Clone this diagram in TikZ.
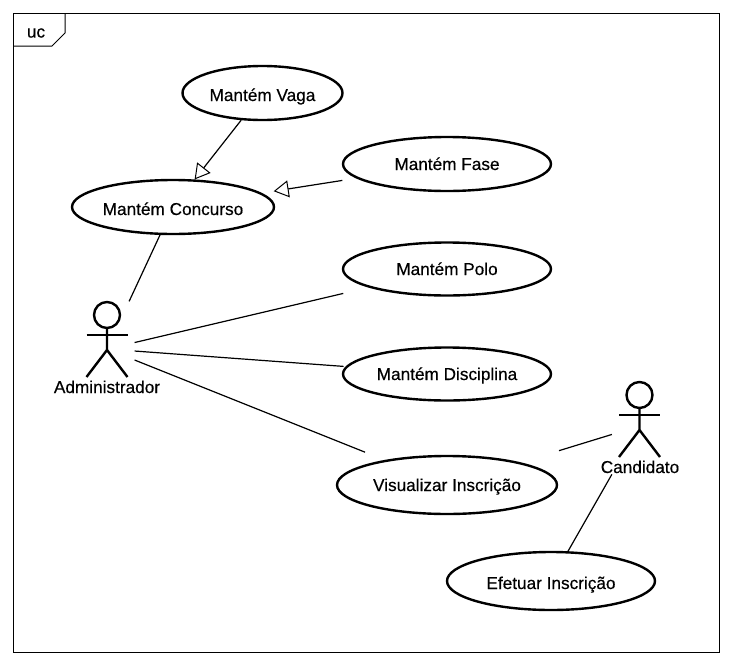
\documentclass[tikz,border=0pt]{standalone}
\usepackage{fontspec}
\setmainfont[FakeBold=0.35]{Liberation Sans}
\usetikzlibrary{arrows.meta,shapes.geometric}

\tikzset{
  case node/.style={ellipse,draw,line width=2.4pt,inner sep=0pt,text height=16pt,text depth=0pt},
  actor node/.style={rectangle,inner sep=0pt,minimum width=54pt},
  actor label/.style={anchor=base,inner sep=0pt},
  stick man/.pic={
    \draw (0,-31) circle (13);
    \draw (-20.5,-11) -- (20.5,-11);
    \draw (0,-18) -- (0,4) (-20.5,31) -- (0,4) -- (20.5,31);
  }
}

\begin{document}
\begin{tikzpicture}[x=1pt,y=-1pt,line width=1.2pt,font=\fontsize{17.2}{20}\selectfont,
                  gen/.style={-{Triangle[open,length=15pt,width=17pt,line width=1pt]}}]
    \useasboundingbox (0,0) rectangle (733,664);

    % frame
    \draw[line width=1pt] (13.5,13.5) rectangle (719.5,652);
    \draw[line width=1pt] (13.5,46) -- (52,46) -- (65,33) -- (65,13.5);
    \node[inner sep=0pt] (frametag) at (36,33) {uc};

    % use cases
    \node[case node,minimum width=160pt,minimum height=54pt] (vaga) at (262.5,93) {Mantém Vaga};
    \node[case node,minimum width=202pt,minimum height=54pt] (concurso) at (173,207) {Mantém Concurso};
    \node[case node,minimum width=208pt,minimum height=54pt,text height=12pt] (fase) at (447,164) {Mantém Fase};
    \node[case node,minimum width=208pt,minimum height=53pt,text height=12pt] (polo) at (447,269) {Mantém Polo};
    \node[case node,minimum width=208pt,minimum height=53pt,text height=12pt] (disciplina) at (447,374) {Mantém Disciplina};
    \node[case node,minimum width=220pt,minimum height=58pt,text height=12pt] (visualizar) at (447,485) {Visualizar Inscrição};
    \node[case node,minimum width=208pt,minimum height=58pt] (efetuar) at (551,581) {Efetuar Inscrição};

    % actors
    \node[actor node,minimum height=94pt] (admin) at (107,349) {};
    \pic[line width=2.4pt] at (107,346) {stick man};
    \node[actor label] (adminlabel) at (107,393) {Administrador};

    \node[actor node,minimum height=98pt] (candidato) at (639.5,426) {};
    \pic[line width=2.4pt] at (639.5,426) {stick man};
    \node[actor label] (candidatolabel) at (640,473) {Candidato};

    % connectors
    \draw[gen] (vaga) -- (concurso);
    \draw[gen,shorten <=14pt,shorten >=12pt] (fase) -- (concurso);
    \draw (concurso) -- (admin);
    \draw[shorten <=26pt] (polo) -- (admin);
    \draw[shorten <=2pt] (disciplina) -- (admin);
    \draw[shorten <=21pt] (visualizar) -- (admin);
    \draw[shorten <=40pt] (visualizar) -- (candidato);
    \draw (efetuar) -- (candidato);
\end{tikzpicture}
\end{document}
